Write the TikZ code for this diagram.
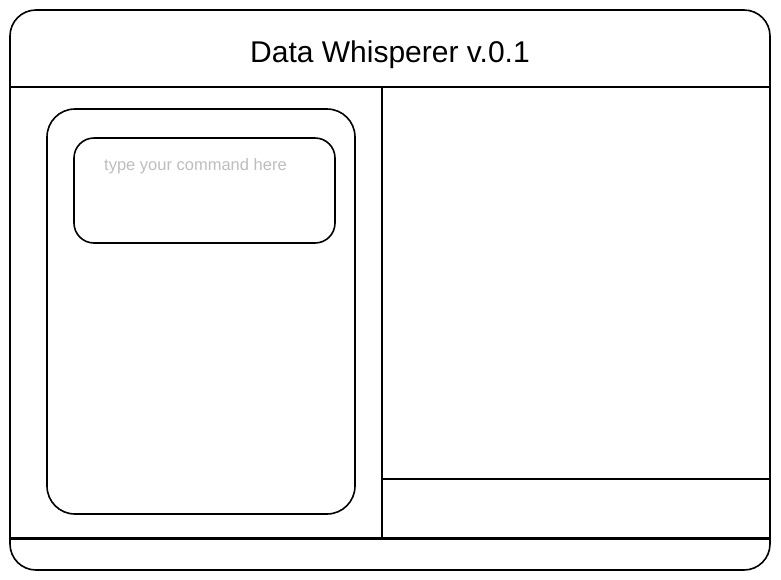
\documentclass[tikz,border=0pt]{standalone}
\usepackage{fontspec}
\setmainfont{Liberation Sans}
\definecolor{hint}{RGB}{190,190,190}
\begin{document}
\begin{tikzpicture}[x=1pt,y=-1pt,
  frame/.style={draw=black,line width=1.6pt},
  thickline/.style={draw=black,line width=2.6pt},
  thinline/.style={draw=black,line width=1.4pt}]
\useasboundingbox (0,0) rectangle (781,579);
\fill[white] (0,0) rectangle (781,579);
% outer window
\draw[frame,rounded corners=26pt] (10,10) rectangle (770,570);
\coordinate (hl) at (10,87);
\coordinate (hr) at (770,87);
\coordinate (bl) at (10,538);
\coordinate (br) at (770,538);
\coordinate (dt) at (382,87);
\coordinate (db) at (382,538);
\coordinate (rl) at (382,479);
\coordinate (rr) at (770,479);
\draw[thickline] (hl) -- (hr);
\draw[thickline,line width=3pt] (bl) -- (br);
\draw[thinline] (dt) -- (db);
\draw[thickline] (rl) -- (rr);
% title
\node[font=\fontsize{30}{34}\selectfont] (title) at (390,55) {Data Whisperer v.0.1};
% left panel
\draw[frame,rounded corners=28pt] (47,109) rectangle (355,514);
% input box
\draw[frame,rounded corners=20pt] (74,138) rectangle (335,243);
\node[anchor=west,text=hint,font=\fontsize{16.5}{19}\selectfont,inner sep=0pt] (hinttext) at (104,166) {type your command here};
\end{tikzpicture}
\end{document}
